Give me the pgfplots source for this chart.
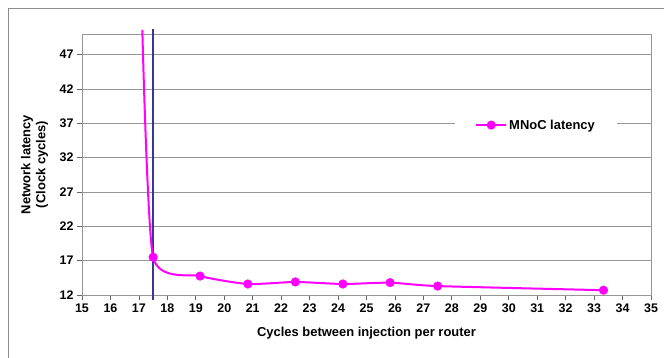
\documentclass[border=0pt]{standalone}
\usepackage{pgfplots}
\pgfplotsset{compat=1.18}
\usepackage{fontspec}
\setmainfont{Liberation Sans}
\definecolor{mag}{RGB}{255,0,255}
\definecolor{navyl}{RGB}{55,55,150}
\definecolor{gridc}{RGB}{150,150,150}
\begin{document}
\begin{tikzpicture}
\useasboundingbox (0,0) rectangle (664bp,358bp);
\draw[gray!90, line width=1bp] (8bp,0) -- (8bp,349bp) -- (664bp,349bp);
\begin{axis}[
  at={(82bp,63bp)}, anchor=south west,
  scale only axis, width=569bp, height=261bp,
  xmin=15, xmax=35, ymin=12, ymax=50,
  xtick={15,16,...,35}, ytick={12,17,...,47},
  ymajorgrids, grid style={gridc, line width=0.8bp},
  axis line style={gridc, line width=0.9bp},
  tick style={gray!80!black, line width=0.8bp},
  tick align=outside, major tick length=5bp,
  xtick pos=bottom, ytick pos=left,
  /pgf/number format/assume math mode=true,
  ticklabel style={font=\fontsize{12.5}{14}\selectfont\bfseries},
  xlabel={Cycles between injection per router},
  ylabel={Network latency\\(Clock cycles)},
  label style={font=\fontsize{13}{15}\selectfont\bfseries, align=center},
  xlabel style={at={(axis description cs:0.5,-0.146)}, anchor=center},
  ylabel style={at={(axis description cs:-0.0835,0.5)}, anchor=center},
  clip=false,
  legend style={at={(rel axis cs:0.798,0.651)}, anchor=center, draw=none, fill=white,
    inner xsep=20bp, inner ysep=1bp,
    font=\fontsize{13}{15}\selectfont\bfseries},
  legend image code/.code={\draw (0bp,0bp) -- (30bp,0bp); \draw[mark indices={1}] plot coordinates {(15bp,0bp)};},
]
\addplot[navyl, line width=1.4bp, forget plot] coordinates {(17.5,11.3) (17.5,50.7)};
\addplot[mag, line width=2bp, smooth, tension=0.35, mark=*, mark size=4.3bp,
  mark options={fill=mag, draw=mag, line width=0.5bp}, mark indices={2,3,4,5,6,7,8,9}]
  coordinates {(17.12,50.6) (17.5,17.5) (19.15,14.76) (20.83,13.6) (22.5,13.9) (24.17,13.6) (25.83,13.8) (27.5,13.3) (33.33,12.7)};
\addlegendentry{MNoC latency}
\end{axis}
\end{tikzpicture}
\end{document}
